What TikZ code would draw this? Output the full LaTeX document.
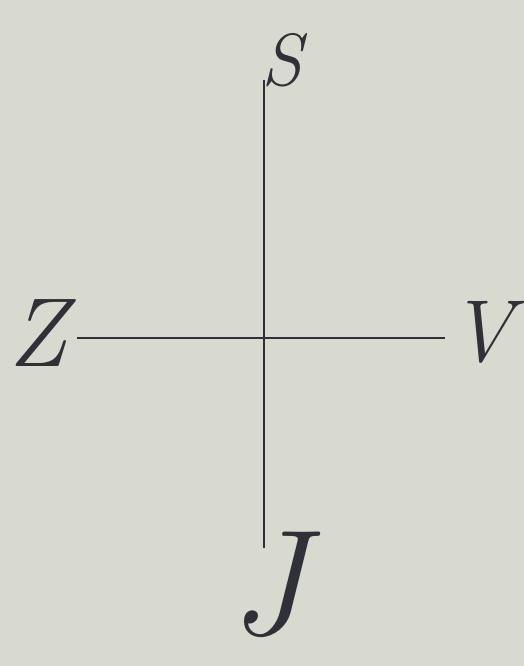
\documentclass[tikz,border=0pt]{standalone}
\definecolor{paper}{RGB}{216,218,207}
\definecolor{ink}{RGB}{48,48,56}
\tikzset{
  axis/.style={draw=ink, line width=1.2pt},
  letter/.style={text=ink, inner sep=0pt, font=\itshape}
}
\begin{document}
\begin{tikzpicture}[x=1pt,y=-1pt]
\fill[paper] (0,0) rectangle (524,666);
\useasboundingbox (0,0) rectangle (524,666);
\coordinate (n) at (264,80);
\coordinate (s) at (264,548);
\coordinate (w) at (77,338);
\coordinate (e) at (445,338);
\draw[axis] (n) -- (s);
\draw[axis] (w) -- (e);
\node[letter, font=\itshape\fontsize{74}{74}\selectfont] (S) at (282,60) {S};
\node[letter, font=\itshape\fontsize{98}{98}\selectfont] (Z) at (38,333) {Z};
\node[letter, font=\itshape\fontsize{88}{88}\selectfont] (V) at (481,332) {V};
\node[letter, font=\itshape\fontsize{150}{150}\selectfont] (J) at (268,585) {J};
\end{tikzpicture}
\end{document}
